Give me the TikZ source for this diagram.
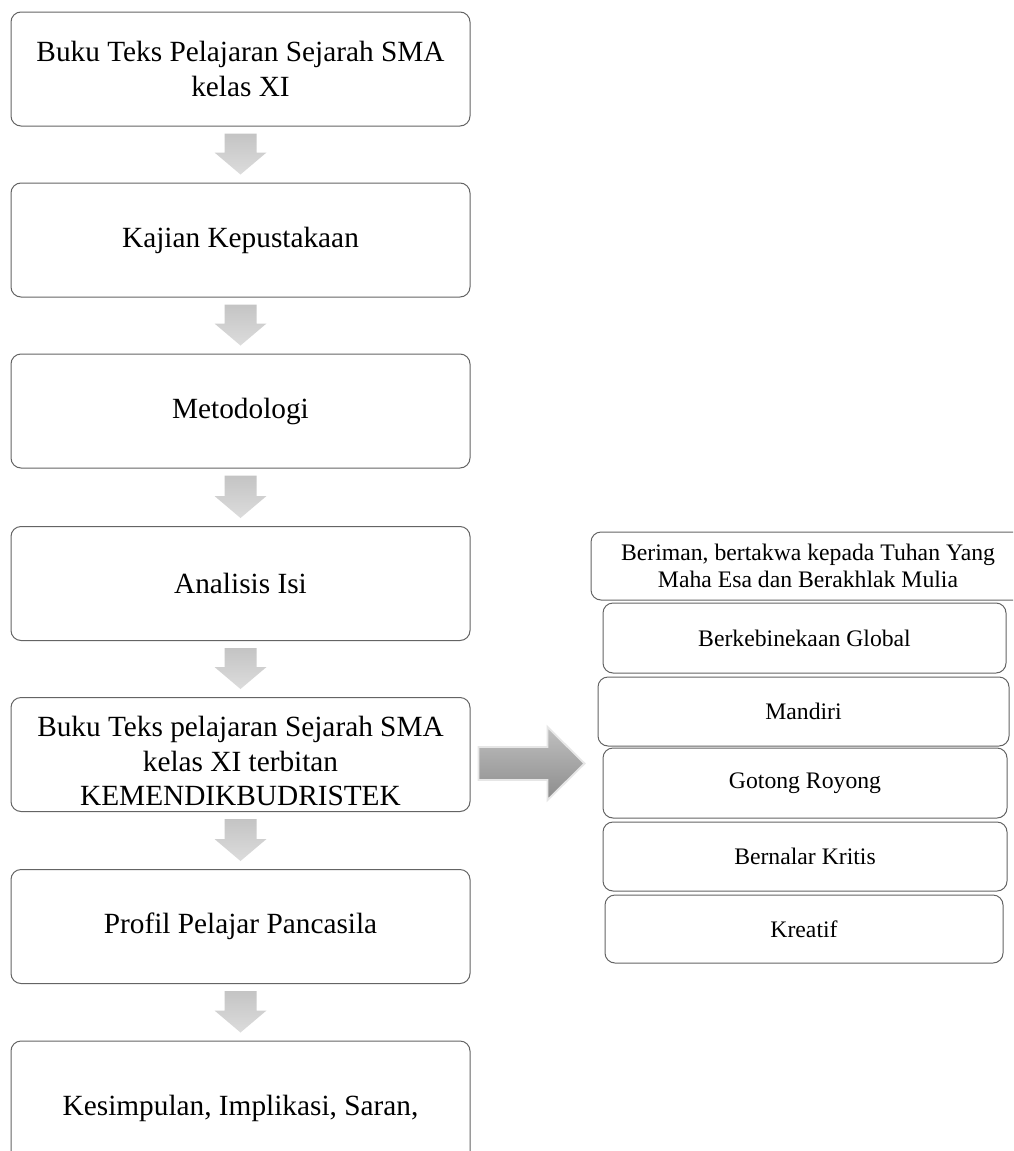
\documentclass[tikz,border=0pt]{standalone}
\usepackage{fontspec}
\setmainfont{Liberation Serif}
\usetikzlibrary{calc}
\definecolor{boxline}{RGB}{100,100,100}
\definecolor{arrtop}{RGB}{196,196,196}
\definecolor{arrbot}{RGB}{220,220,220}
\definecolor{rarrtop}{RGB}{192,192,192}
\definecolor{rarrbot}{RGB}{140,140,140}
\definecolor{rarredge}{RGB}{230,230,230}
\newcommand\downblock[2]{%
  \path[downarr] let \p1=(#1.south), \p2=(#2.north) in
    (\x1-16pt,\y1-7pt) -- (\x1+16pt,\y1-7pt) -- (\x1+16pt,\y2+30pt) --
    (\x1+26pt,\y2+30pt) -- (\x1,\y2+8pt) -- (\x1-26pt,\y2+30pt) --
    (\x1-16pt,\y2+30pt) -- cycle;}
\begin{document}
\begin{tikzpicture}[x=1pt,y=-1pt,
  lfont/.style={font=\fontsize{29.3}{34.5}\selectfont},
  lbox/.style={draw=boxline, line width=1pt, rounded corners=10pt,
    minimum width=459pt, minimum height=114pt, align=center, inner sep=0pt, lfont},
  rbox/.style={draw=boxline, line width=1pt, rounded corners=10pt,
    align=center, inner sep=0pt, font=\fontsize{23.7}{27}\selectfont},
  downarr/.style={top color=arrtop, bottom color=arrbot, draw=none},
  rightarr/.style={top color=rarrtop, bottom color=rarrbot, draw=rarredge, line width=1.8pt}]
\useasboundingbox (0,0) rectangle (1013,1151);
\clip (0,0) rectangle (1013,1151);
\fill[white] (0,0) rectangle (1013,1151);

\node[lbox] (b1) at (240.5,69) {Buku Teks Pelajaran Sejarah SMA\\kelas XI};
\node[lbox] (b2) at (240.5,240) {Kajian Kepustakaan};
\node[lbox] (b3) at (240.5,411) {Metodologi};
\node[lbox] (b4) at (240.5,583.5) {Analisis Isi};
\node[lbox] (b5) at (240.5,754.5) {};
\node[align=center, inner sep=0pt, lfont] (b5t) at (240.5,761) {Buku Teks pelajaran Sejarah SMA\\kelas XI terbitan\\KEMENDIKBUDRISTEK};
\node[lbox] (b6) at (240.5,926.5) {Profil Pelajar Pancasila};
\node[lbox, minimum height=134pt] (b7) at (240.5,1108) {Kesimpulan, Implikasi, Saran,};

\downblock{b1}{b2}
\downblock{b2}{b3}
\downblock{b3}{b4}
\downblock{b4}{b5}
\downblock{b5}{b6}
\downblock{b6}{b7}

\node[rbox, minimum width=434pt, minimum height=68pt] (r1) at (808,566) {Beriman, bertakwa kepada Tuhan Yang\\Maha Esa dan Berakhlak Mulia};
\node[rbox, minimum width=403pt, minimum height=70pt] (r2) at (804.5,638) {Berkebinekaan Global};
\node[rbox, minimum width=411pt, minimum height=69pt] (r3) at (803.5,711.5) {Mandiri};
\node[rbox, minimum width=404pt, minimum height=70pt] (r4) at (805,783) {Gotong Royong};
\node[rbox, minimum width=404pt, minimum height=69pt] (r5) at (805,856.5) {Bernalar Kritis};
\node[rbox, minimum width=398pt, minimum height=68pt] (r6) at (804,929) {Kreatif};

\path[rightarr] let \p1=(b5.east), \p2=(r3.west) in
  (\x1+8pt,\y1-9pt+16.5pt) -- (\x2-50pt,\y1-9pt+16.5pt) -- (\x2-50pt,\y1-9pt+36.5pt) --
  (\x2-13pt,\y1-9pt) -- (\x2-50pt,\y1-9pt-36.5pt) -- (\x2-50pt,\y1-9pt-16.5pt) --
  (\x1+8pt,\y1-9pt-16.5pt) -- cycle;
\end{tikzpicture}
\end{document}
